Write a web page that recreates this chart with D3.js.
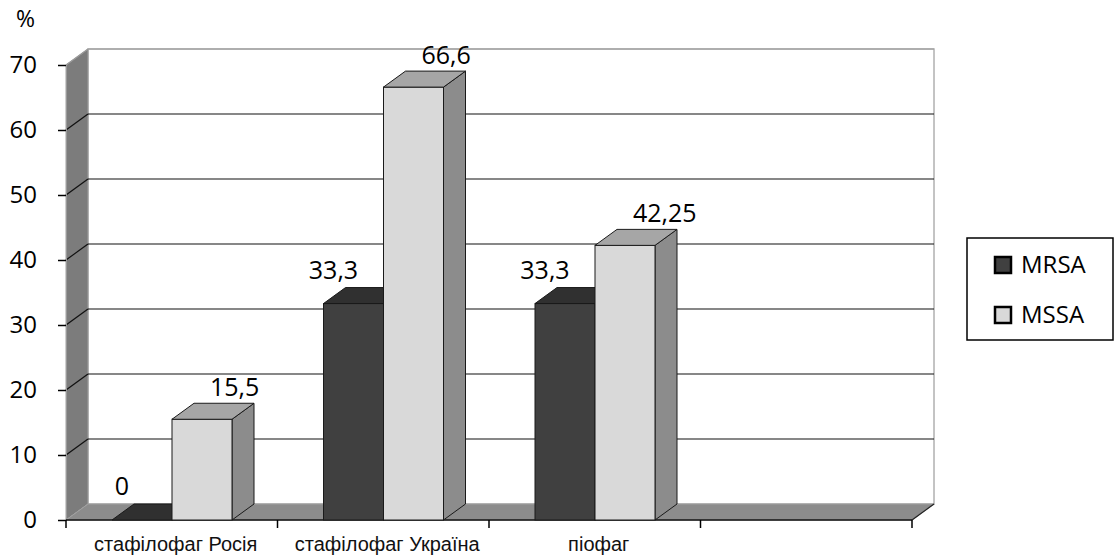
<!DOCTYPE html>
<html>
<head>
<meta charset="utf-8">
<script src="https://cdn.jsdelivr.net/npm/d3@7"></script>
<style>
    body { margin: 0; background: #fff; }
    svg { display: block; }
</style>
</head>
<body>
<div id="chart"></div>
<script>
const categories = ["стафілофаг Росія", "стафілофаг Україна", "піофаг", ""];
const seriesNames = ["MRSA", "MSSA"];
const mrsaValues = [0, 33.3, 33.3, null];
const mssaValues = [15.5, 66.6, 42.25, null];
const yTicks = [0, 10, 20, 30, 40, 50, 60, 70];

const w = 1115, h = 555;
const dx = 22, dy = -16; // depth offset of the 3d box

const svg = d3.select("#chart").append("svg").attr("width", w).attr("height", h);

const xScale = d3.scaleBand().domain(categories).range([66, 912]).padding(0);
const inner = d3.scaleBand().domain(seriesNames).range([46, 166]).padding(0);
const yScale = d3.scaleLinear().domain([0, 70]).range([520, 65]);

const x0 = 66, x1 = 912, y0 = yScale(0), yTop = yScale(70);

// back wall
svg.append("rect")
    .attr("x", x0 + dx).attr("y", yTop + dy)
    .attr("width", x1 - x0).attr("height", y0 - yTop)
    .attr("fill", "#fff").attr("stroke", "#b0b0b0").attr("stroke-width", 1.5);

// left wall
svg.append("polygon")
    .attr("points", [[x0, y0], [x0, yTop], [x0 + dx, yTop + dy], [x0 + dx, y0 + dy]].join(" "))
    .attr("fill", "#7c7c7c").attr("stroke", "#a0a0a0");

// floor
svg.append("polygon")
    .attr("points", [[x0, y0], [x1, y0], [x1 + dx, y0 + dy], [x0 + dx, y0 + dy]].join(" "))
    .attr("fill", "#8c8c8c").attr("stroke", "#a0a0a0");
svg.append("line").attr("x1", x1).attr("y1", y0).attr("x2", x1 + dx).attr("y2", y0 + dy)
    .attr("stroke", "#222").attr("stroke-width", 1.2);

// gridlines on back wall and left wall
const grid = svg.append("g");
yTicks.filter(v => v > 0).forEach(v => {
    const c = v === 70 ? "#9a9a9a" : "#111";
    grid.append("line")
        .attr("x1", x0 + dx).attr("x2", x1 + dx)
        .attr("y1", yScale(v) + dy).attr("y2", yScale(v) + dy)
        .attr("stroke", c).attr("stroke-width", 1.2);
    grid.append("line")
        .attr("x1", x0).attr("x2", x0 + dx)
        .attr("y1", yScale(v)).attr("y2", yScale(v) + dy)
        .attr("stroke", c).attr("stroke-width", 1.2);
});

// y axis
const yAxis = d3.axisLeft(yScale).tickValues(yTicks).tickSize(8).tickFormat(d => d);
const gy = svg.append("g").attr("transform", "translate(" + x0 + ",0)").call(yAxis);
gy.select(".domain").attr("stroke", "#999").attr("stroke-width", 1);
gy.selectAll(".tick line").attr("stroke", "#000").attr("stroke-width", 1.5);
gy.selectAll(".tick text")
    .attr("x", -29)
    .style("font-family", "'Open Sans', sans-serif").style("font-size", "24px").attr("fill", "#000");

// x axis
const xTicks = categories.map(c => xScale(c)).concat([x1]);
svg.append("line").attr("x1", x0).attr("x2", x1).attr("y1", y0).attr("y2", y0)
    .attr("stroke", "#111").attr("stroke-width", 1.5);
svg.selectAll(".xtick").data(xTicks).enter().append("line")
    .attr("class", "xtick")
    .attr("x1", d => d).attr("x2", d => d).attr("y1", y0).attr("y2", y0 + 8)
    .attr("stroke", "#000").attr("stroke-width", 1.5);
svg.selectAll(".xlabel").data(categories).enter().append("text")
    .attr("class", "xlabel")
    .attr("x", d => xScale(d) + xScale.bandwidth() / 2 + 4)
    .attr("y", 551)
    .attr("text-anchor", "middle")
    .style("font-family", "'Liberation Sans', Arial, sans-serif").style("font-size", "20px")
    .attr("fill", "#111")
    .text(d => d);

// % label
svg.append("text").attr("x", 16).attr("y", 27).text("%")
    .style("font-family", "'Open Sans', sans-serif").style("font-size", "23px");

// bars
const colors = {
    MRSA: { front: "#404040", top: "#303030", side: "#262626" },
    MSSA: { front: "#d9d9d9", top: "#a6a6a6", side: "#8c8c8c" }
};
const bars = [];
categories.forEach((c, i) => {
    [mrsaValues, mssaValues].forEach((vals, si) => {
        if (vals[i] == null) return;
        bars.push({ cat: c, series: seriesNames[si], value: vals[i], si: si });
    });
});

const bw = inner.bandwidth();
const barG = svg.selectAll(".bar").data(bars).enter().append("g").attr("class", "bar");
barG.each(function (d) {
    const g = d3.select(this);
    const bx = xScale(d.cat) + inner(d.series);
    const by = yScale(d.value);
    const col = colors[d.series];
    // side
    g.append("polygon")
        .attr("points", [[bx + bw, y0], [bx + bw, by], [bx + bw + dx, by + dy], [bx + bw + dx, y0 + dy]].join(" "))
        .attr("fill", col.side).attr("stroke", "#1a1a1a").attr("stroke-width", 1);
    // front
    if (d.value > 0) {
        g.append("rect")
            .attr("x", bx).attr("y", by).attr("width", bw).attr("height", y0 - by)
            .attr("fill", col.front).attr("stroke", "#1a1a1a").attr("stroke-width", 1);
    }
    // top
    g.append("polygon")
        .attr("points", [[bx, by], [bx + bw, by], [bx + bw + dx, by + dy], [bx + dx, by + dy]].join(" "))
        .attr("fill", col.top).attr("stroke", "#1a1a1a").attr("stroke-width", 1);
});

// value labels
svg.selectAll(".vlabel").data(bars).enter().append("text")
    .attr("class", "vlabel")
    .attr("x", d => xScale(d.cat) + inner(d.series) + (d.si === 0 ? bw / 2 - 20 : 38))
    .attr("y", d => yScale(d.value) + dy - (d.si === 0 ? 9 : 7))
    .attr("text-anchor", d => d.si === 0 ? "middle" : "start")
    .style("font-family", "'Open Sans', sans-serif").style("font-size", "25px")
    .text(d => String(d.value).replace(".", ","));

// legend
const lg = svg.append("g");
lg.append("rect").attr("x", 967).attr("y", 238).attr("width", 146).attr("height", 102)
    .attr("fill", "#fff").attr("stroke", "#000").attr("stroke-width", 1.5);
seriesNames.forEach((s, i) => {
    const yy = 257 + i * 50;
    lg.append("rect").attr("x", 995).attr("y", yy).attr("width", 16).attr("height", 16)
        .attr("fill", colors[s].front).attr("stroke", "#000").attr("stroke-width", 2.5);
    lg.append("text").attr("x", 1021).attr("y", yy + 8).attr("dy", "0.35em")
        .style("font-family", "'Open Sans', sans-serif").style("font-size", "24px")
        .text(s);
});
</script>
</body>
</html>
